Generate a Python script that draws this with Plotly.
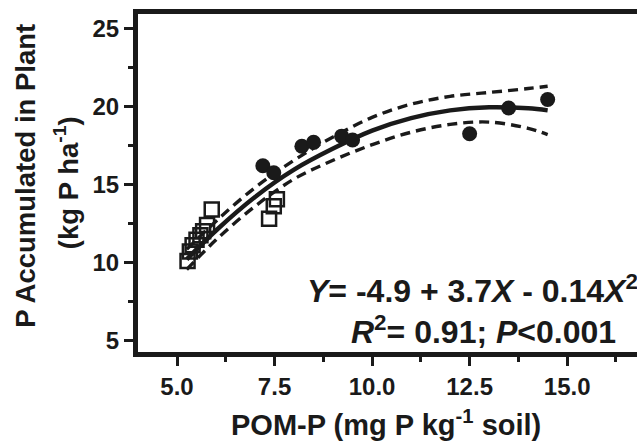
import plotly.graph_objects as go

# Data
filled_x = [7.2, 7.48, 8.2, 8.5, 9.22, 9.5, 12.5, 13.5, 14.5]
filled_y = [16.2, 15.75, 17.45, 17.7, 18.1, 17.85, 18.25, 19.9, 20.45]

open_x = [5.27, 5.33, 5.4, 5.5, 5.6, 5.67, 5.77, 5.89, 7.36, 7.48, 7.56]
open_y = [10.1, 10.7, 11.1, 11.45, 11.75, 12.0, 12.4, 13.4, 12.8, 13.6, 14.05]

fit_x = [5.25, 6.0, 7.0, 8.0, 9.0, 10.0, 11.0, 12.0, 13.0, 14.0, 14.5]
fit_y = [10.2, 12.05, 14.2, 15.95, 17.3, 18.45, 19.25, 19.75, 19.95, 19.88, 19.75]
upper_y = [10.85, 12.65, 14.8, 16.55, 18.05, 19.3, 20.15, 20.65, 20.9, 21.15, 21.3]
lower_y = [9.55, 11.45, 13.6, 15.35, 16.55, 17.55, 18.35, 18.85, 19.0, 18.6, 18.2]

x_ticks = [5.0, 7.5, 10.0, 12.5, 15.0]
x_tick_labels = ["5.0", "7.5", "10.0", "12.5", "15.0"]
y_ticks = [5, 10, 15, 20, 25]

FONT = "Liberation Sans"
INK = "#1a1a1a"

fig = go.Figure()

for band in (upper_y, lower_y):
    fig.add_trace(go.Scatter(x=fit_x, y=band, mode="lines",
                             line=dict(color=INK, width=3.4, dash="10px,6px", shape="spline"),
                             hoverinfo="skip", showlegend=False))
fig.add_trace(go.Scatter(x=fit_x, y=fit_y, mode="lines",
                         line=dict(color=INK, width=4.5, shape="spline"),
                         showlegend=False))
fig.add_trace(go.Scatter(x=open_x, y=open_y, mode="markers",
                         marker=dict(symbol="square-open", size=14, color=INK,
                                     line=dict(width=2.5, color=INK)),
                         showlegend=False))
fig.add_trace(go.Scatter(x=filled_x, y=filled_y, mode="markers",
                         marker=dict(symbol="circle", size=15, color=INK),
                         showlegend=False))

axis_common = dict(
    showline=True, linewidth=5, linecolor=INK,
    showgrid=False, zeroline=False,
    ticks="outside", ticklen=9, tickwidth=3, tickcolor=INK,
    tickfont=dict(family=FONT, size=24, color=INK, weight="bold"),
)

fig.update_xaxes(range=[4.0, 16.79], tickvals=x_ticks, ticktext=x_tick_labels,
                 mirror=True,
                 minor=dict(dtick=1.25, tick0=5.0, ticks="outside", ticklen=5,
                            tickwidth=3, tickcolor=INK),
                 **axis_common)
fig.update_yaxes(range=[4.26, 25.93], tickvals=y_ticks,
                 minor=dict(dtick=2.5, tick0=5, ticks="outside", ticklen=5,
                            tickwidth=3, tickcolor=INK),
                 **axis_common)

ann_font = dict(family=FONT, size=27.5, color=INK, weight="bold")
xt_font = dict(family=FONT, size=29, color=INK, weight="bold")
eq_font = dict(family=FONT, size=32, color=INK, weight="bold")

fig.update_layout(
    width=637, height=445,
    margin=dict(l=137.5, r=0, t=14, b=93),
    plot_bgcolor="white", paper_bgcolor="white",
    showlegend=False,
    annotations=[
        dict(text="P Accumulated in Plant", xref="paper", yref="paper",
             x=-0.2252, y=0.52, textangle=-90, showarrow=False,
             xanchor="center", yanchor="middle", font=ann_font),
        dict(text="(kg P ha<sup>-1</sup>)", xref="paper", yref="paper",
             x=-0.144, y=0.50, textangle=-90, showarrow=False,
             xanchor="center", yanchor="middle", font=ann_font),
        dict(text="POM-P (mg P kg<sup>-1</sup> soil)", xref="paper", yref="paper",
             x=0.496, y=-0.21, showarrow=False,
             xanchor="center", yanchor="middle", font=xt_font),
        dict(text="<i>Y</i>= -4.9 + 3.7<i>X</i> - 0.14<i>X</i><sup>2</sup>",
             xref="x", yref="y", x=8.27, y=8.3, showarrow=False,
             xanchor="left", yanchor="middle", font=eq_font),
        dict(text="<i>R</i><sup>2</sup>= 0.91; <i>P</i>&lt;0.001",
             xref="x", yref="y", x=9.42, y=5.7, showarrow=False,
             xanchor="left", yanchor="middle", font=eq_font),
    ],
)

fig.write_html("out.html", config={"displayModeBar": False},
               post_script="document.body.style.margin='0';")
